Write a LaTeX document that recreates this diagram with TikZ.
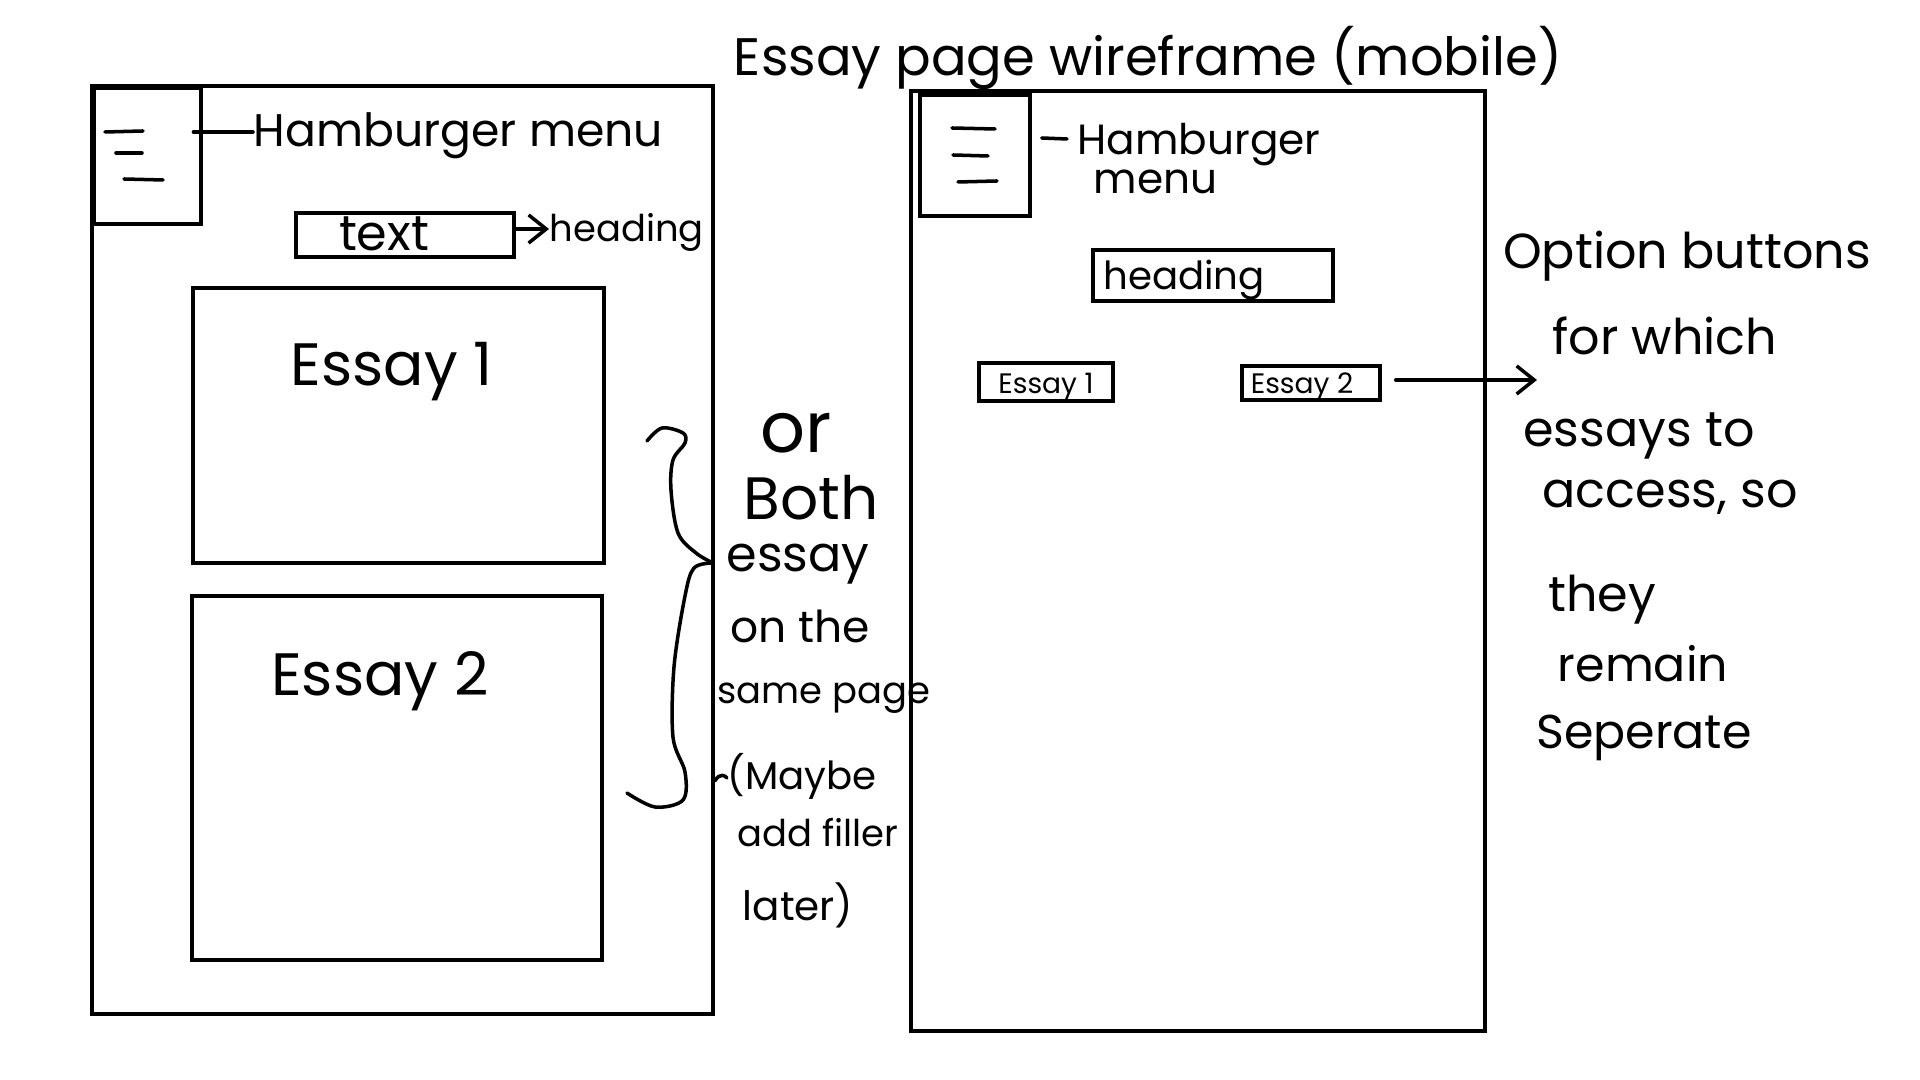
\documentclass[tikz,border=0pt]{standalone}
\usepackage{fontspec}
\setmainfont{Poppins}
\usetikzlibrary{arrows.meta,fit}

\begin{document}
\begin{tikzpicture}[x=0.01cm,y=-0.01cm,
  frame/.style={draw=black,line width=1pt,inner sep=0pt},
  heavybox/.style={draw=black,line width=1.4pt,inner sep=0pt},
  pen/.style={draw=black,line width=1pt,line cap=round,line join=round},
  lbl/.style={inner sep=0pt,anchor=base},
  lblw/.style={inner sep=0pt,anchor=base west},
  barb/.style={-{Straight Barb[length=5pt,width=8pt,line width=1pt]}},
  fs/.style={font=\fontsize{#1}{#1}\selectfont}]
\useasboundingbox[fill=white] (0,0) rectangle (1920,1080);

% ---------- title ----------
\node[lbl,fs=15] (title) at (1148,76) {Essay page wireframe (mobile)};

% ---------- left page: both essays on one page ----------
\node[frame,fit={(92,86)(713,1014)}] (lpage) {};
\node[heavybox,fit={(94,88)(201,224)}] (lburger) {};
\draw[pen] (105,132) -- (143,131);
\draw[pen] (116,153) -- (142,153);
\draw[pen] (124,179) -- (163,180);
\node[lblw,fs=13] (lburgerlbl) at (253,147) {Hamburger menu};
\draw[pen] ([xshift=-0.1cm]lburger.east |- 0,132) -- (lburgerlbl.west |- 0,132);

\node[frame,fit={(296,213)(514,257)}] (ltext) {};
\node[lbl,fs=14] (ltextlbl) at (384,251) {text};
\node[lblw,fs=10.5] (lheadlbl) at (549,242) {heading};
\draw[pen,barb] (ltext.east |- 0,229) -- (lheadlbl.west |- 0,229);

\node[heavybox,fit={(193,288)(604,563)}] (lessay1) {};
\node[lbl,fs=17] (lessay1lbl) at (392,386) {Essay 1};
\node[heavybox,fit={(192,596)(602,960)}] (lessay2) {};
\node[lbl,fs=17] (lessay2lbl) at (380,696) {Essay 2};

% brace grouping both essay boxes
\coordinate (bracetip) at (713,563);
\draw[pen] plot[smooth,tension=0.55] coordinates {
  (647,441) (662,428) (683,433) (685,443) (673,460) (671,490)
  (678,533) (696,553) (bracetip)};
\draw[pen] plot[smooth,tension=0.55] coordinates {
  (bracetip) (694,568) (685,596) (674,667) (673,737) (685,772)
  (683,800) (655,807) (627,793)};

% side note of the left page
\node[lbl,fs=20]   (nor)    at (796,453) {or};
\node[lbl,fs=17]   (nboth)  at (811,520) {Both};
\node[lbl,fs=14]   (nessay) at (798,572) {essay};
\node[lbl,fs=12.5] (nonthe) at (800,643) {on the};
\node[lbl,fs=10.5] (nsame)  at (824,704) {same page};
\node[lbl,fs=11]   (nmaybe) at (802,790) {(Maybe};
\node[lbl,fs=10.5] (nadd)   at (818,847) {add filler};
\node[lbl,fs=11.5] (nlater) at (798,921) {later)};
\draw[pen] (lpage.east |- 0,781) .. controls (720,772) and (726,776) .. (nmaybe.west |- 0,778);

% ---------- right page: essays as separate options ----------
\node[frame,fit={(911,91)(1485,1031)}] (rpage) {};
\node[frame,fit={(920,95)(1030,216)}] (rburger) {};
\draw[pen] (952,128) -- (995,129);
\draw[pen] (953,155) -- (988,156);
\draw[pen] (958,182) -- (997,181);
\node[lblw,fs=12] (rburgerlbl) at (1077,155) {Hamburger};
\node[lblw,fs=12] (rmenulbl) at (1093,194) {menu};
\draw[pen] ([xshift=0.1cm]rburger.east |- 0,138) -- ([xshift=-0.1cm]rburgerlbl.west |- 0,139);

\node[frame,fit={(1093,250)(1333,301)}] (rhead) {};
\node[lbl,fs=11] (rheadlbl) at (1184,290) {heading};

\node[frame,fit={(979,363)(1113,401)}] (ress1) {};
\node[lbl,fs=8] (ress1lbl) at (1046,394) {Essay 1};
\node[frame,fit={(1242,366)(1380,400)}] (ress2) {};
\node[lbl,fs=8] (ress2lbl) at (1302,394) {Essay 2};

\coordinate (optnote) at (1537,380);
\draw[pen,barb] ([xshift=0.14cm]ress2.east |- 0,380) -- (optnote);

% side note of the right page
\node[lbl,fs=14] (o1) at (1687,269) {Option buttons};
\node[lbl,fs=14] (o2) at (1665,355) {for which};
\node[lbl,fs=14] (o3) at (1639,447) {essays to};
\node[lbl,fs=14] (o4) at (1670,508) {access, so};
\node[lbl,fs=14] (o5) at (1602,612) {they};
\node[lbl,fs=13.5] (o6) at (1643,682) {remain};
\node[lbl,fs=13.5] (o7) at (1644,749) {Seperate};
\end{tikzpicture}
\end{document}
